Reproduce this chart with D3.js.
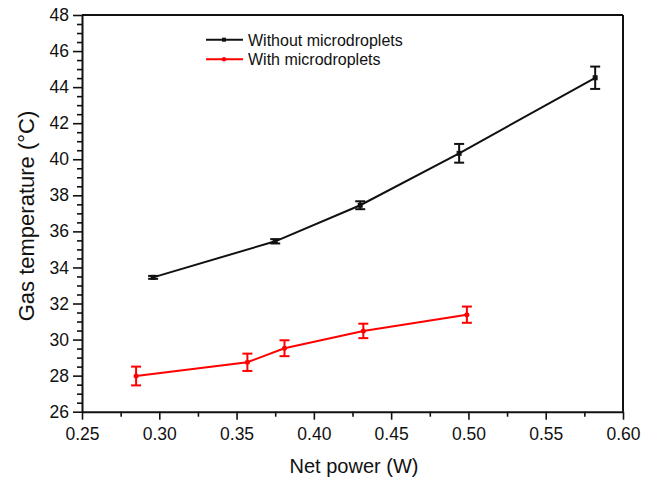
<!DOCTYPE html>
<html>
<head>
<meta charset="utf-8">
<script src="https://cdn.jsdelivr.net/npm/d3@7"></script>
<style>
  body { margin: 0; background: #fff; }
  svg { display: block; font-family: "Liberation Sans", Arial, sans-serif; }
</style>
</head>
<body>
<div id="chart"></div>
<script>
/* Data */
const POWER_DRY = [0.296, 0.375, 0.430, 0.494, 0.582];
const TEMP_DRY  = [33.45, 35.45, 37.45, 40.33, 44.52];
const ERR_DRY   = [0.08, 0.12, 0.22, 0.52, 0.62];

const POWER_WET = [0.285, 0.357, 0.381, 0.432, 0.499];
const TEMP_WET  = [27.98, 28.74, 29.52, 30.48, 31.38];
const ERR_WET   = [0.52, 0.48, 0.44, 0.40, 0.45];

const SERIES_NAMES = ['Without microdroplets', 'With microdroplets'];
const X_TICKS = [0.25, 0.30, 0.35, 0.40, 0.45, 0.50, 0.55, 0.60];
const Y_TICKS = [26, 28, 30, 32, 34, 36, 38, 40, 42, 44, 46, 48];

/* Dimensions */
const WIDTH = 654;
const HEIGHT = 479;
const LEFT = 82, RIGHT = 623, TOP = 15, BOTTOM = 411.7;
const BLACK = '#111';
const RED = '#ff0000';

const svg = d3.select('#chart').append('svg')
    .attr('width', WIDTH)
    .attr('height', HEIGHT);

const x = d3.scaleLinear().domain([0.25, 0.60]).range([LEFT, RIGHT]);
const y = d3.scaleLinear().domain([26, 48]).range([BOTTOM, TOP]);

const xMinor = d3.range(0.275, 0.6, 0.05);
const yMinor = d3.range(26.5, 48, 0.5).filter(v => v % 2 !== 0);

/* Axes */
svg.append('g')
    .attr('transform', `translate(0,${BOTTOM})`)
    .call(d3.axisBottom(x).tickValues(X_TICKS).tickFormat(d3.format('.2f')).tickSizeInner(8).tickSizeOuter(0).tickPadding(7.5));
svg.append('g')
    .attr('transform', `translate(0,${BOTTOM})`)
    .call(d3.axisBottom(x).tickValues(xMinor).tickFormat('').tickSizeInner(5).tickSizeOuter(0))
    .select('.domain').remove();

svg.append('g')
    .attr('transform', `translate(${LEFT},0)`)
    .call(d3.axisLeft(y).tickValues(Y_TICKS).tickSizeInner(9).tickSizeOuter(0).tickPadding(4));
svg.append('g')
    .attr('transform', `translate(${LEFT},0)`)
    .call(d3.axisLeft(y).tickValues(yMinor).tickFormat('').tickSizeInner(5).tickSizeOuter(0))
    .select('.domain').remove();

svg.selectAll('.tick line').attr('stroke', BLACK).attr('stroke-width', 1.6);
svg.selectAll('.domain').attr('stroke', BLACK).attr('stroke-width', 2);
svg.selectAll('.tick text').attr('fill', BLACK).style('font-size', '17.5px');

/* Frame top and right */
svg.append('line').attr('x1', LEFT).attr('x2', RIGHT).attr('y1', TOP).attr('y2', TOP)
    .attr('stroke', BLACK).attr('stroke-width', 2);
svg.append('line').attr('x1', RIGHT).attr('x2', RIGHT).attr('y1', TOP).attr('y2', BOTTOM)
    .attr('stroke', BLACK).attr('stroke-width', 2);

/* Axis titles */
svg.append('text')
    .attr('x', 354).attr('y', 473)
    .attr('text-anchor', 'middle')
    .style('font-size', '20px').attr('fill', BLACK)
    .text('Net power (W)');
svg.append('text')
    .attr('transform', 'translate(33.5,216) rotate(-90)')
    .attr('text-anchor', 'middle')
    .style('font-size', '22px').attr('fill', BLACK)
    .text('Gas temperature (°C)');

/* Series */
function drawSeries(px, py, err, color, marker) {
    const pts = px.map((v, i) => ({ x: v, y: py[i], e: err[i] }));
    const g = svg.append('g');
    g.append('path').datum(pts)
        .attr('fill', 'none').attr('stroke', color).attr('stroke-width', 2)
        .attr('d', d3.line().x(d => x(d.x)).y(d => y(d.y)));

    const bars = g.selectAll('.err').data(pts).enter().append('g');
    bars.append('line')
        .attr('x1', d => x(d.x)).attr('x2', d => x(d.x))
        .attr('y1', d => y(d.y - d.e)).attr('y2', d => y(d.y + d.e))
        .attr('stroke', color).attr('stroke-width', 2);
    bars.append('line')
        .attr('x1', d => x(d.x) - 5).attr('x2', d => x(d.x) + 5)
        .attr('y1', d => y(d.y + d.e)).attr('y2', d => y(d.y + d.e))
        .attr('stroke', color).attr('stroke-width', 2);
    bars.append('line')
        .attr('x1', d => x(d.x) - 5).attr('x2', d => x(d.x) + 5)
        .attr('y1', d => y(d.y - d.e)).attr('y2', d => y(d.y - d.e))
        .attr('stroke', color).attr('stroke-width', 2);

    if (marker === 'square') {
        g.selectAll('.pt').data(pts).enter().append('rect')
            .attr('x', d => x(d.x) - 2.5).attr('y', d => y(d.y) - 2.5)
            .attr('width', 5).attr('height', 5).attr('fill', color);
    } else {
        g.selectAll('.pt').data(pts).enter().append('circle')
            .attr('cx', d => x(d.x)).attr('cy', d => y(d.y))
            .attr('r', 2.5).attr('fill', color);
    }
}

drawSeries(POWER_DRY, TEMP_DRY, ERR_DRY, BLACK, 'square');
drawSeries(POWER_WET, TEMP_WET, ERR_WET, RED, 'circle');

/* Legend */
const legend = svg.append('g');
const LEG_COLORS = [BLACK, RED];
SERIES_NAMES.forEach((name, i) => {
    const ly = 39.7 + i * 19.6;
    legend.append('line').attr('x1', 206).attr('x2', 243).attr('y1', ly).attr('y2', ly)
        .attr('stroke', LEG_COLORS[i]).attr('stroke-width', 2);
    if (i === 0) {
        legend.append('rect').attr('x', 222).attr('y', ly - 2).attr('width', 4).attr('height', 4).attr('fill', LEG_COLORS[i]);
    } else {
        legend.append('circle').attr('cx', 224).attr('cy', ly).attr('r', 2.2).attr('fill', LEG_COLORS[i]);
    }
    legend.append('text').attr('x', 248).attr('y', ly + 6)
        .style('font-size', '16px').attr('fill', BLACK)
        .text(name);
});
</script>
</body>
</html>
